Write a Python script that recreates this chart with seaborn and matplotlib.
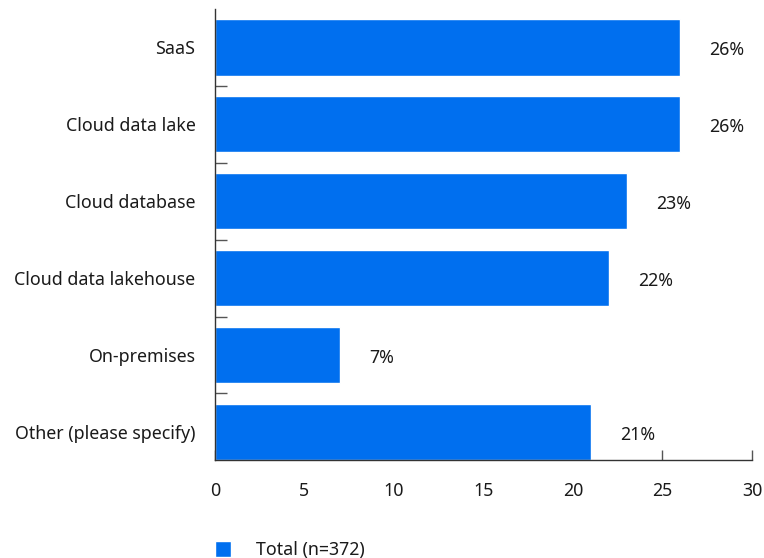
import matplotlib
matplotlib.use("Agg")
import numpy as np
import pandas as pd
import matplotlib.pyplot as plt
from matplotlib.ticker import FixedLocator
import seaborn as sns

# Data
categories = ["SaaS", "Cloud data lake", "Cloud database",
              "Cloud data lakehouse", "On-premises", "Other (please specify)"]
values = [26, 26, 23, 22, 7, 21]
series_name = "Total (n=372)"
x_ticks = [0, 5, 10, 15, 20, 25, 30]

BLUE = "#006FEF"
TEXT = "#1a1a1a"
GRID = "#555555"
FS = 12.8

sns.set_theme(style="white")
plt.rcParams["font.family"] = ["Noto Sans", "DejaVu Sans"]

df = pd.DataFrame({"category": categories, "value": values,
                   "series": [series_name] * len(categories)})

fig = plt.figure(figsize=(7.64, 5.58), dpi=100)
ax = fig.add_axes([215 / 764, 98 / 558, 537 / 764, 451 / 558])

sns.barplot(data=df, x="value", y="category", hue="series",
            palette=[BLUE], width=0.73, ax=ax, legend=True, saturation=1)

ax.set_xlim(0, 30)
ax.set_ylim(5.365, -0.5)
ax.set_xlabel("")
ax.set_ylabel("")

# value labels to the right of each bar
for i, v in enumerate(values):
    ax.annotate(f"{v}%", xy=(v, i), xytext=(21, -2), textcoords="offset points",
                ha="left", va="center", fontsize=FS, color=TEXT)

# spines
sns.despine(ax=ax, top=True, right=True)
for side in ["left", "bottom"]:
    ax.spines[side].set_color("#333333")
    ax.spines[side].set_linewidth(1.0)

# x ticks: pointing inward
ax.set_xticks(x_ticks)
ax.set_xticklabels([str(t) for t in x_ticks])
ax.tick_params(axis="x", direction="in", length=7.5, width=1, color=GRID,
               labelsize=FS, labelcolor=TEXT, pad=16, bottom=True)

# y labels centred on bars, tick marks on category boundaries
ax.set_yticks(range(len(categories)))
ax.set_yticklabels(categories)
ax.tick_params(axis="y", which="major", length=0, labelsize=FS,
               labelcolor=TEXT, pad=14)
ax.yaxis.set_minor_locator(FixedLocator([i + 0.5 for i in range(len(categories) - 1)]))
ax.tick_params(axis="y", which="minor", direction="in", length=8.5, width=1,
               color=GRID, left=True)

# legend below the plot
handles, labels = ax.get_legend_handles_labels()
ax.get_legend().remove()
fig.legend(handles, labels, loc="lower left", bbox_to_anchor=(203 / 764, -0.024),
           frameon=False, fontsize=FS, handlelength=0.9, handleheight=1.0,
           handletextpad=1.4, borderpad=0.2, labelcolor=TEXT)

fig.savefig("out.png", dpi=100)
